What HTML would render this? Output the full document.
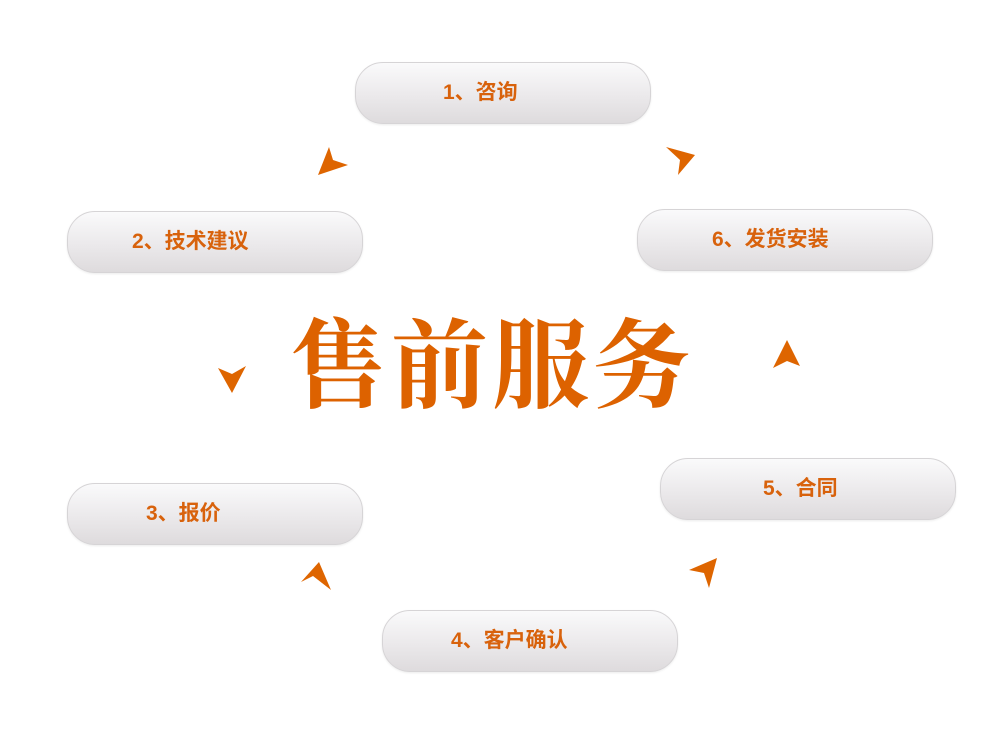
<!DOCTYPE html>
<html><head><meta charset="utf-8"><style>
body{margin:0;width:1000px;height:750px;background:#fff;position:relative;overflow:hidden;font-family:"Liberation Sans","Noto Sans CJK SC",sans-serif}
.p{position:absolute;width:296px;height:62px;border-radius:28px;border:1px solid #d6d4d6;background:linear-gradient(#fafafb,#ebe9eb 55%,#dedbdd);box-shadow:0 1px 2px rgba(0,0,0,.08);box-sizing:border-box;color:#d8620c;font-weight:bold;font-size:21px;line-height:60px}
.t{position:absolute;left:290px;top:298px;font-family:"Noto Serif CJK SC",serif;font-weight:700;font-size:97px;color:#dd6200;letter-spacing:4px;line-height:120px}
</style></head><body>
<div class="p" style="left:355px;top:62px;padding-left:87px">1、咨询</div>
<div class="p" style="left:67px;top:211px;padding-left:64px">2、技术建议</div>
<div class="p" style="left:637px;top:209px;padding-left:74px">6、发货安装</div>
<div class="p" style="left:660px;top:458px;padding-left:102px">5、合同</div>
<div class="p" style="left:67px;top:483px;padding-left:78px">3、报价</div>
<div class="p" style="left:382px;top:610px;padding-left:68px">4、客户确认</div>
<div class="t">售前服务</div>
<svg width="1000" height="750" style="position:absolute;left:0;top:0" fill="#de6500">
<polygon points="318,175 329,147 333,160 348,165"/>
<polygon points="666,147 695,155 678,175 680,160"/>
<polygon points="218,368 232,374 246,366 232,393"/>
<polygon points="787,340 800,366 787,361 773,368"/>
<polygon points="301,582 319,562 331,590 313,576"/>
<polygon points="689,570 717,558 709,588 704,573"/>
</svg>
</body></html>
